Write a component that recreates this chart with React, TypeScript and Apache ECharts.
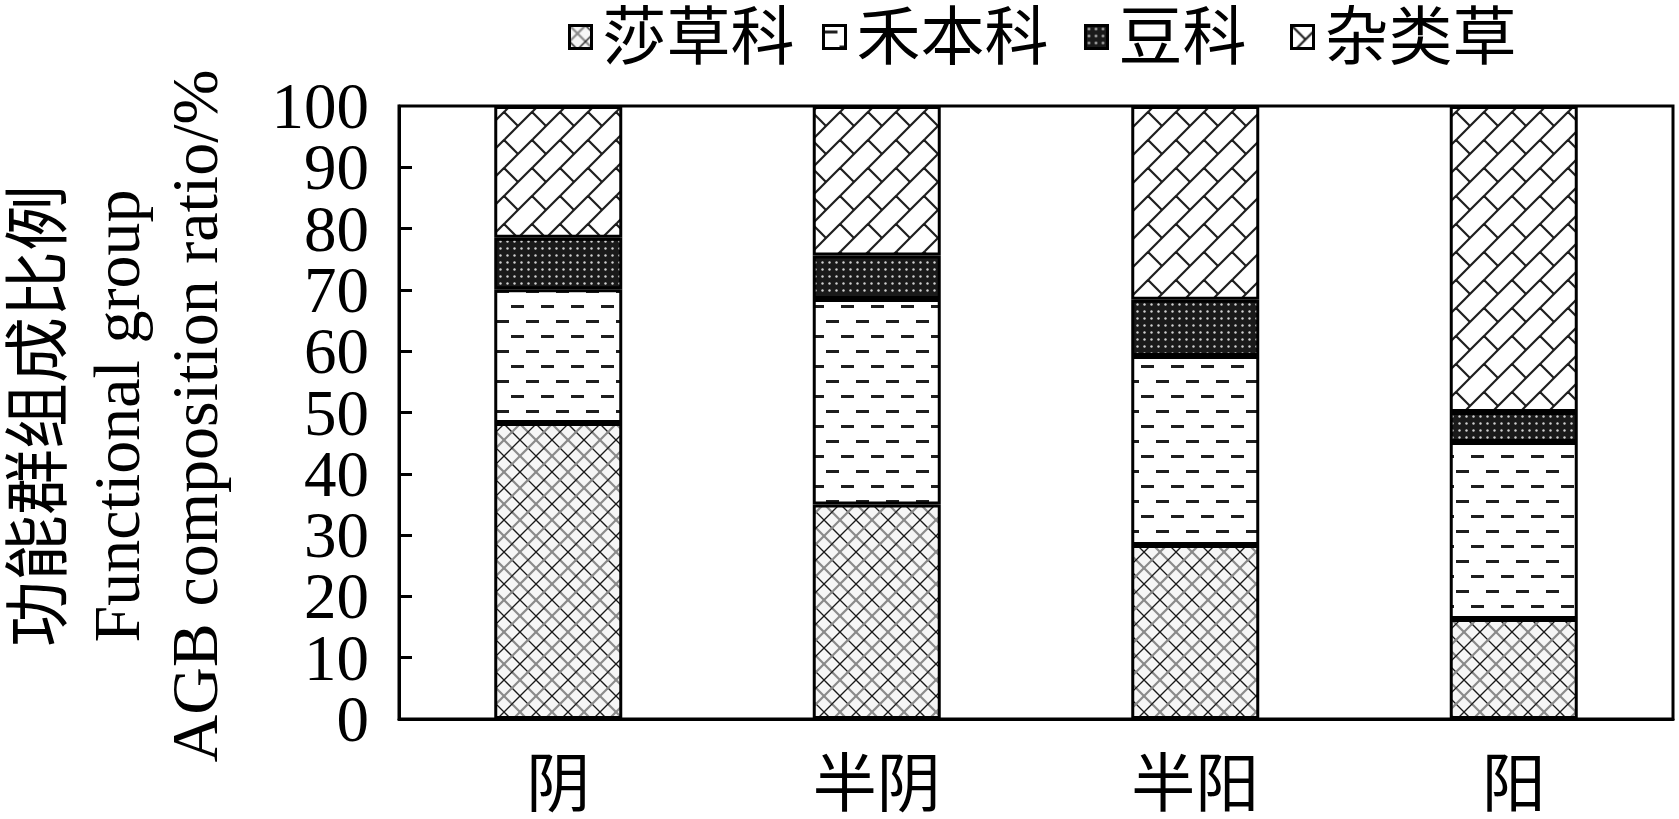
import { useEffect, useRef } from "react";
import * as echarts from "echarts";

const FONT = "'Liberation Serif', 'Times New Roman', 'Noto Sans CJK SC', serif";

const categories = ["阴", "半阴", "半阳", "阳"];
const groupNames = ["莎草科", "禾本科", "豆科", "杂类草"];
const sedge = [48.3, 35.0, 28.4, 16.3];
const grass = [21.8, 33.5, 30.8, 28.9];
const legume = [8.4, 7.1, 9.2, 4.9];
const forb = [21.5, 24.4, 31.6, 49.9];
const yMin = 0;
const yMax = 100;
const yStep = 10;
const titleLines = ["功能群组成比例", "Functional group", "AGB composition ratio/%"];
const legendLeft = [563, 817, 1079, 1285];

type Draw = (ctx: CanvasRenderingContext2D, s: number) => void;

function tile(size: number, draw: Draw) {
  const c = document.createElement("canvas");
  c.width = size;
  c.height = size;
  const ctx = c.getContext("2d")!;
  draw(ctx, size);
  return { image: c.toDataURL(), imageWidth: size, imageHeight: size, repeat: "repeat" };
}

// diamond cross-hatch, grey with some black lines
const crossHatch = tile(32, (ctx, s) => {
  ctx.fillStyle = "#f6f6f6";
  ctx.fillRect(0, 0, s, s);
  const down: [number, string, number][] = [
    [0, "#8a8a8a", 2.2],
    [16, "#1a1a1a", 1.3],
  ];
  const up: [number, string, number][] = [
    [0, "#1a1a1a", 1.3],
    [16, "#8a8a8a", 2.2],
  ];
  for (const [off, col, w] of down) {
    ctx.strokeStyle = col;
    ctx.lineWidth = w;
    for (let k = -3; k <= 3; k++) {
      ctx.beginPath();
      ctx.moveTo(-s, -s + off + k * s);
      ctx.lineTo(2 * s, 2 * s + off + k * s);
      ctx.stroke();
    }
  }
  for (const [off, col, w] of up) {
    ctx.strokeStyle = col;
    ctx.lineWidth = w;
    for (let k = -3; k <= 3; k++) {
      ctx.beginPath();
      ctx.moveTo(-s, 2 * s + off + k * s);
      ctx.lineTo(2 * s, -s + off + k * s);
      ctx.stroke();
    }
  }
});

// staggered dashes
const dashes = tile(30, (ctx, s) => {
  ctx.fillStyle = "#ffffff";
  ctx.fillRect(0, 0, s, s);
  ctx.fillStyle = "#1e1e1e";
  ctx.fillRect(1, 5, 13, 3);
  ctx.fillRect(16, 20, 13, 3);
});

// dark background with light dots
const dots = tile(7, (ctx, s) => {
  ctx.fillStyle = "#1a1a1a";
  ctx.fillRect(0, 0, s, s);
  ctx.fillStyle = "#d0d0d0";
  ctx.beginPath();
  ctx.arc(3.5, 3.5, 1.2, 0, Math.PI * 2);
  ctx.fill();
});

// diagonal bricks
const bricks = tile(28, (ctx, s) => {
  ctx.fillStyle = "#ffffff";
  ctx.fillRect(0, 0, s, s);
  const h = s / Math.SQRT2;
  const L = 2 * h;
  ctx.save();
  ctx.rotate(-Math.PI / 4);
  ctx.strokeStyle = "#1e1e1e";
  ctx.lineWidth = 2.2;
  for (let j = -6; j <= 6; j++) {
    const b = j * h;
    ctx.beginPath();
    ctx.moveTo(-200, b);
    ctx.lineTo(200, b);
    ctx.stroke();
    for (let i = -6; i <= 6; i++) {
      const a = i * L + (Math.abs(j) % 2 === 1 ? L / 2 : 0);
      ctx.beginPath();
      ctx.moveTo(a, b);
      ctx.lineTo(a, b + h);
      ctx.stroke();
    }
  }
  ctx.restore();
});

const labelStyle = {
  fontSize: 65,
  color: "#000",
  margin: 30,
  fontFamily: FONT,
};

export default function App() {
  const rootRef = useRef<HTMLDivElement>(null);

  useEffect(() => {
    if (!rootRef.current) return;
    const chart = echarts.init(rootRef.current, undefined, {
      renderer: "svg",
      width: 1679,
      height: 819,
    });

    const fills = [crossHatch, dashes, dots, bricks];
    const values = [sedge, grass, legume, forb];

    chart.setOption({
      animation: false,
      textStyle: { fontFamily: FONT },
      grid: {
        left: 399,
        top: 106,
        width: 1274,
        height: 613,
        show: true,
        borderColor: "#000",
        borderWidth: 3,
        backgroundColor: "transparent",
      },
      legend: groupNames.map((name, i) => ({
        data: [name],
        left: legendLeft[i],
        top: 0,
        icon: "rect",
        itemWidth: 22,
        itemHeight: 23,
        selectedMode: false,
        itemStyle: { borderColor: "#000", borderWidth: 3 },
        textStyle: {
          fontSize: 64,
          lineHeight: 64,
          color: "#000",
          fontFamily: FONT,
          padding: [0, 0, 0, 6],
        },
      })),
      xAxis: {
        type: "category",
        data: categories,
        axisLine: { lineStyle: { color: "#000", width: 3 } },
        axisTick: { show: false },
        axisLabel: {
          fontSize: 64,
          lineHeight: 50,
          color: "#000",
          margin: 40,
          fontFamily: FONT,
        },
      },
      yAxis: [
        {
          // main axis: line, ticks and the inner labels 10..90
          type: "value",
          min: yMin,
          max: yMax,
          interval: yStep,
          axisLine: { show: true, lineStyle: { color: "#000", width: 3 } },
          axisTick: {
            show: true,
            inside: true,
            length: 13,
            lineStyle: { color: "#000", width: 3 },
          },
          splitLine: { show: false },
          axisLabel: { ...labelStyle, showMinLabel: false, showMaxLabel: false },
        },
        {
          // same scale, only the end labels 0 and 100
          type: "value",
          position: "left",
          min: yMin,
          max: yMax,
          interval: yStep,
          axisLine: { show: false },
          axisTick: { show: false },
          splitLine: { show: false },
          axisLabel: {
            ...labelStyle,
            showMinLabel: true,
            showMaxLabel: true,
            formatter: (v: number) => (v === yMin || v === yMax ? String(v) : ""),
          },
        },
      ],
      series: groupNames.map((name, i) => ({
        name,
        type: "bar",
        stack: "total",
        barWidth: 128,
        data: values[i],
        itemStyle: {
          color: fills[i],
          borderColor: "#000",
          borderWidth: 3,
        },
      })),
      graphic: [
        {
          type: "text",
          x: 116,
          y: 416,
          rotation: Math.PI / 2,
          style: {
            text: titleLines.join("\n"),
            fontSize: 66,
            fontFamily: FONT,
            fill: "#000",
            align: "center",
            verticalAlign: "middle",
            lineHeight: 78,
          },
        },
      ],
    });

    return () => {
      chart.dispose();
    };
  }, []);

  return (
    <div
      ref={rootRef}
      style={{ position: "absolute", left: 0, top: 0, width: 1679, height: 819, background: "#fff" }}
    />
  );
}
